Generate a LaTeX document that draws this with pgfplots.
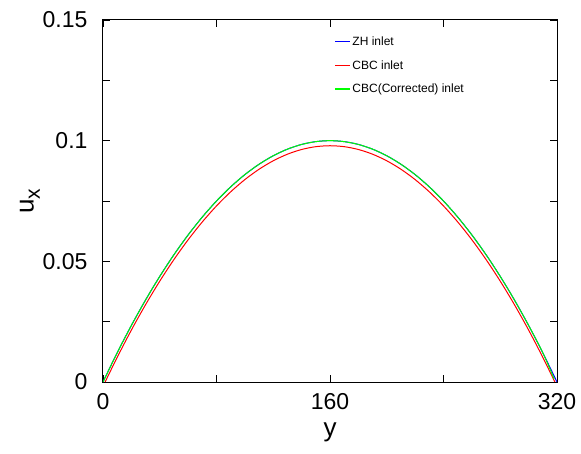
\documentclass[border=0pt]{standalone}
\usepackage{pgfplots}
\pgfplotsset{compat=1.18}
\usepackage{fontspec}
\setmainfont{Liberation Sans}
\pgfplotsset{
  rulelegend/.style={legend image code/.code={\node[inner sep=0pt, anchor=west] at (0pt,0pt) {\textcolor{#1}{\rule[-0.6pt]{15pt}{1.2pt}}};}},
}
\begin{document}
\begin{tikzpicture}
\useasboundingbox (-103pt,-71pt) rectangle (478pt,382pt);
\begin{axis}[
  scale only axis,
  width=454pt, height=362pt,
  xmin=0, xmax=320, ymin=0, ymax=0.15,
  xtick={0,160,320}, minor xtick={80,240},
  ytick={0,0.05,0.1,0.15}, yticklabels={0,0.05,0.1,0.15},
  minor ytick={0.025,0.075,0.125},
  tick align=inside,
  major tick length=7pt, minor tick length=7pt,
  tick style={black, line width=0.8pt},
  axis line style={line width=1pt},
  /pgf/number format/assume math mode=true,
  ticklabel style={font=\fontsize{23}{26}\selectfont},
  xticklabel style={yshift=-8pt},
  yticklabel style={xshift=-12pt},
  xlabel={y}, ylabel={u\raisebox{-0.45ex}{\fontsize{21}{21}\selectfont x}},
  label style={font=\fontsize{26}{28}\selectfont},
  xlabel style={yshift=-6pt},
  ylabel style={yshift=-4pt},
  legend style={draw=none, fill=none, at={(0.505,0.965)}, anchor=north west,
    font=\fontsize{12}{14}\selectfont, row sep=9.5pt},
  legend cell align=left,
]
\addlegendimage{rulelegend=blue}
\addlegendentry{ZH inlet}
\addlegendimage{rulelegend=red}
\addlegendentry{CBC inlet}
\addlegendimage{rulelegend=green}
\addlegendentry{CBC(Corrected) inlet}
\addplot[color=blue, line width=1pt, smooth, forget plot] coordinates {
(0,0) (10,0.012109) (20,0.023438) (30,0.033984) (40,0.04375) (50,0.052734) (60,0.060938) (70,0.068359) (80,0.075) (90,0.080859) (100,0.085938) (110,0.090234) (120,0.09375) (130,0.096484) (140,0.098438) (150,0.099609) (160,0.1)
(170,0.099609) (180,0.098438) (190,0.096484) (200,0.09375) (210,0.090234) (220,0.085938) (230,0.080859) (240,0.075) (250,0.068359) (260,0.060938) (270,0.052734) (280,0.04375) (290,0.033984) (300,0.023438) (310,0.012109) (320,0)
};
\addplot[color=red, line width=1pt, smooth, forget plot] coordinates {
(1.5,0) (10,0.010219) (20,0.021520) (30,0.032042) (40,0.041784) (50,0.050747) (60,0.058931) (70,0.066336) (80,0.072961) (90,0.078807) (100,0.083873) (110,0.088159) (120,0.091667) (130,0.094395) (140,0.096344) (150,0.097513) (160,0.0979)
(170,0.097513) (180,0.096344) (190,0.094395) (200,0.091667) (210,0.088159) (220,0.083873) (230,0.078807) (240,0.072961) (250,0.066336) (260,0.058931) (270,0.050747) (280,0.041784) (290,0.032042) (300,0.021520) (310,0.010219) (318.5,0)
};
\addplot[color=green, line width=1pt, smooth, forget plot] coordinates {
(0,0) (10,0.012109) (20,0.023438) (30,0.033984) (40,0.04375) (50,0.052734) (60,0.060938) (70,0.068359) (80,0.075) (90,0.080859) (100,0.085938) (110,0.090234) (120,0.09375) (130,0.096484) (140,0.098438) (150,0.099609) (160,0.1)
(170,0.099609) (180,0.098438) (190,0.096484) (200,0.09375) (210,0.090234) (220,0.085938) (230,0.080859) (240,0.075) (250,0.068359) (260,0.060938) (270,0.052734) (280,0.04375) (290,0.033984) (300,0.023438) (310,0.012109) (318,0.001247)
};
\end{axis}
\end{tikzpicture}
\end{document}
